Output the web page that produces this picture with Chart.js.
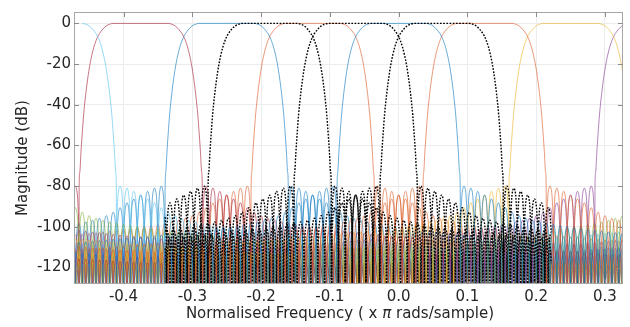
<!DOCTYPE html>
<html>
<head>
<meta charset="utf-8">
<script src="https://cdn.jsdelivr.net/npm/chart.js@4.4.1/dist/chart.umd.min.js"></script>
<style>
  html, body { margin: 0; padding: 0; background: #ffffff; }
  #wrap { width: 630px; height: 327px; position: relative; }
</style>
</head>
<body>
<div id="wrap"><canvas id="c" width="630" height="327"></canvas></div>
<script>
// ---- axis ticks -----------------------------------------------------------
const xTicks = [-0.4, -0.3, -0.2, -0.1, 0.0, 0.1, 0.2, 0.3];
const yTicks = [0, -20, -40, -60, -80, -100, -120];

// ---- 16-channel filter bank: centre frequencies (x pi rad/sample) ---------
const channelCenters = [0, 0.125, 0.25, 0.375, 0.5, 0.625, 0.75, 0.875,
                        -1.0, -0.875, -0.75, -0.625, -0.5, -0.375, -0.25, -0.125];
const channelColors  = ['#0072BD', '#D95319', '#EDB120', '#7E2F8E', '#77AC30', '#4DBEEE', '#A2142F', '#0072BD',
                        '#D95319', '#EDB120', '#7E2F8E', '#77AC30', '#4DBEEE', '#A2142F', '#0072BD', '#D95319'];

// ---- prototype response, main lobe (offset from centre, dB) ---------------
const mainOffsets = [0, 0.040, 0.045, 0.050, 0.055, 0.060, 0.0625, 0.065, 0.068, 0.071,
                     0.074, 0.077, 0.080, 0.083, 0.085, 0.087, 0.0885, 0.0895];
const mainLevels  = [0, 0, -0.4, -1.2, -2.8, -5.0, -6.5, -8.5, -11.5, -15.5,
                     -20.5, -27, -35, -45, -54, -64, -73, -80];

// ---- stop band: sidelobe peak positions and levels, nulls between them -----
const lobeOffsets = [0.095,0.105,0.115,0.125,0.135,0.145,0.155,0.165,0.175,0.185,
                     0.195,0.205,0.215,0.225,0.235,0.245,0.255,0.265,0.275,0.285,
                     0.295,0.305,0.315,0.325,0.335,0.345,0.355,0.365,0.375,0.385,
                     0.395,0.405,0.415,0.425,0.435,0.445,0.455,0.465,0.475,0.485,
                     0.495,0.505,0.515,0.525,0.535,0.545,0.555,0.565,0.575,0.585,
                     0.595,0.605,0.615,0.625,0.635,0.645,0.655,0.665,0.675,0.685,
                     0.695,0.705,0.715,0.725,0.735,0.745,0.755,0.765,0.775,0.785,
                     0.795,0.805,0.815,0.825,0.835,0.845,0.855,0.865,0.875,0.885,
                     0.895,0.905,0.915,0.925,0.935,0.945,0.955,0.965,0.975,0.985,0.995];
const lobeLevels  = [-80.0,-81.0,-82.6,-84.4,-86.3,-88.2,-90.6,-92.8,-94.5,-95.8,
                     -96.8,-97.6,-98.3,-98.9,-99.4,-99.9,-100.4,-100.9,-101.3,-101.7,
                     -102.1,-102.5,-102.9,-103.3,-103.7,-104.0,-104.4,-104.7,-105.0,-105.3,
                     -105.6,-105.9,-106.2,-106.5,-106.8,-107.1,-107.4,-107.7,-108.0,-108.3,
                     -108.6,-108.9,-109.2,-109.5,-109.8,-110.1,-110.4,-110.7,-110.9,-111.2,
                     -111.4,-111.7,-111.9,-112.2,-112.4,-112.7,-112.9,-113.2,-113.4,-113.6,
                     -113.9,-114.1,-114.3,-114.5,-114.8,-115.0,-115.2,-115.4,-115.6,-115.8,
                     -116.0,-116.2,-116.4,-116.6,-116.8,-117.0,-117.2,-117.4,-117.6,-117.7,
                     -117.9,-118.1,-118.3,-118.4,-118.6,-118.8,-118.9,-119.1,-119.2,-119.4,-119.5];
const nullOffsets = [0.090,0.100,0.110,0.120,0.130,0.140,0.150,0.160,0.170,0.180,
                     0.190,0.200,0.210,0.220,0.230,0.240,0.250,0.260,0.270,0.280,
                     0.290,0.300,0.310,0.320,0.330,0.340,0.350,0.360,0.370,0.380,
                     0.390,0.400,0.410,0.420,0.430,0.440,0.450,0.460,0.470,0.480,
                     0.490,0.500,0.510,0.520,0.530,0.540,0.550,0.560,0.570,0.580,
                     0.590,0.600,0.610,0.620,0.630,0.640,0.650,0.660,0.670,0.680,
                     0.690,0.700,0.710,0.720,0.730,0.740,0.750,0.760,0.770,0.780,
                     0.790,0.800,0.810,0.820,0.830,0.840,0.850,0.860,0.870,0.880,
                     0.890,0.900,0.910,0.920,0.930,0.940,0.950,0.960,0.970,0.980,0.990,1.000];
const nullLevel = -150;
// shape of one sidelobe around its peak (offset, dB below the peak)
const lobeShapeOffsets = [-0.0047, -0.0042, -0.003, -0.0015, 0, 0.0015, 0.003, 0.0042, 0.0047];
const lobeShapeDrops   = [-20, -12, -4.6, -1.0, 0, -1.0, -4.6, -12, -20];

// ---- re-designed sub-bands (dotted), evaluated over a limited band ---------
const dottedCenters = [-0.1875, -0.0625, 0.0625];
const dottedBand = [-0.34, 0.222];

// axis limits
const xMin = -0.472, xMax = 0.3262;
const yMin = -128.1, yMax = 5.6;

// one side of the prototype, offset ascending
const halfProfile = [];
mainOffsets.forEach((o, i) => halfProfile.push([o, mainLevels[i]]));
nullOffsets.forEach((o, i) => {
  halfProfile.push([o, nullLevel]);
  if (i < lobeOffsets.length) {
    lobeShapeOffsets.forEach((s, j) => halfProfile.push([lobeOffsets[i] + s, lobeLevels[i] + lobeShapeDrops[j]]));
  }
});
// full symmetric profile from -1 to +1
const fullProfile = halfProfile.slice(1).map(p => [-p[0], p[1]]).reverse().concat(halfProfile);

// place the prototype at a centre (periodic in 2), keeping points in [lo, hi]
function responseAt(center, lo, hi) {
  const pts = [];
  [center - 2, center, center + 2].forEach(c => {
    fullProfile.forEach(p => {
      const x = c + p[0];
      if (x >= lo && x <= hi) pts.push({ x: x, y: p[1] });
    });
  });
  return pts;
}

function tint(hex, a) {
  const n = parseInt(hex.slice(1), 16);
  return `rgba(${(n >> 16) & 255},${(n >> 8) & 255},${n & 255},${a})`;
}

const datasets = [];
channelCenters.forEach((c, i) => {
  datasets.push({
    data: responseAt(c, xMin - 0.02, xMax + 0.02),
    borderColor: tint(channelColors[i], 0.65),
    borderWidth: 0.9,
    pointRadius: 0,
    cubicInterpolationMode: 'monotone',
    order: 2
  });
});
dottedCenters.forEach(c => {
  datasets.push({
    data: responseAt(c, dottedBand[0], dottedBand[1]),
    borderColor: '#000000',
    borderWidth: 1.4,
    borderDash: [1.7, 1.5],
    pointRadius: 0,
    cubicInterpolationMode: 'monotone',
    order: 1
  });
});

const FONT = "'DejaVu Sans', Verdana, sans-serif";

// box around the plot with inward tick marks, and the axis titles
const framePlugin = {
  id: 'frame',
  afterDatasetsDraw(chart) {
    const { ctx, chartArea: a, scales } = chart;
    ctx.save();
    ctx.strokeStyle = '#a6a6a6';
    ctx.lineWidth = 1;
    ctx.strokeRect(Math.round(a.left) + 0.5, Math.round(a.top) + 0.5,
                   Math.round(a.right - a.left) - 1, Math.round(a.bottom - a.top) - 1);
    ctx.strokeStyle = '#8c8c8c';
    ctx.beginPath();
    xTicks.forEach(v => {
      const x = Math.round(scales.x.getPixelForValue(v)) + 0.5;
      ctx.moveTo(x, a.top); ctx.lineTo(x, a.top + 5);
      ctx.moveTo(x, a.bottom); ctx.lineTo(x, a.bottom - 5);
    });
    yTicks.forEach(v => {
      const y = Math.round(scales.y.getPixelForValue(v)) + 0.5;
      ctx.moveTo(a.right, y); ctx.lineTo(a.right - 5, y);
      ctx.moveTo(a.left, y); ctx.lineTo(a.left + 5, y);
    });
    ctx.stroke();
    ctx.restore();
  },
  afterDraw(chart) {
    const { ctx } = chart;
    ctx.save();
    ctx.fillStyle = '#262626';
    ctx.textBaseline = 'alphabetic';
    // x title with an italic pi
    const parts = [['Normalised Frequency ( x ', `15px ${FONT}`],
                   ['\u03C0', `italic 15px ${FONT}`],
                   [' rads/sample)', `15px ${FONT}`]];
    let total = 0;
    parts.forEach(p => { ctx.font = p[1]; total += ctx.measureText(p[0]).width; });
    let x = 340 - total / 2;
    parts.forEach(p => { ctx.font = p[1]; ctx.fillText(p[0], x, 318); x += ctx.measureText(p[0]).width; });
    // y title
    ctx.font = `15px ${FONT}`;
    ctx.translate(27, 158);
    ctx.rotate(-Math.PI / 2);
    ctx.textAlign = 'center';
    ctx.fillText('Magnitude (dB)', 0, 0);
    ctx.restore();
  }
};

new Chart(document.getElementById('c'), {
  type: 'line',
  data: { datasets },
  options: {
    responsive: false,
    animation: false,
    devicePixelRatio: 1,
    events: [],
    layout: { padding: { left: 0, right: 7, top: 8, bottom: 0 } },
    plugins: { legend: { display: false }, tooltip: { enabled: false } },
    scales: {
      x: {
        type: 'linear', min: xMin, max: xMax,
        afterFit(s) { s.height = 43; },
        afterBuildTicks(s) { s.ticks = xTicks.map(v => ({ value: v })); },
        grid: { color: '#ececec', drawTicks: false },
        border: { display: false },
        ticks: { padding: 4, color: '#262626', font: { family: FONT, size: 15 },
                 callback: v => v.toFixed(1) }
      },
      y: {
        type: 'linear', min: yMin, max: yMax,
        afterFit(s) { s.width = 74; },
        afterBuildTicks(s) { s.ticks = yTicks.map(v => ({ value: v })); },
        grid: { color: '#ececec', drawTicks: false },
        border: { display: false },
        ticks: { padding: 3, color: '#262626', font: { family: FONT, size: 15 },
                 callback: v => String(v) }
      }
    }
  },
  plugins: [framePlugin]
});
</script>
</body>
</html>
